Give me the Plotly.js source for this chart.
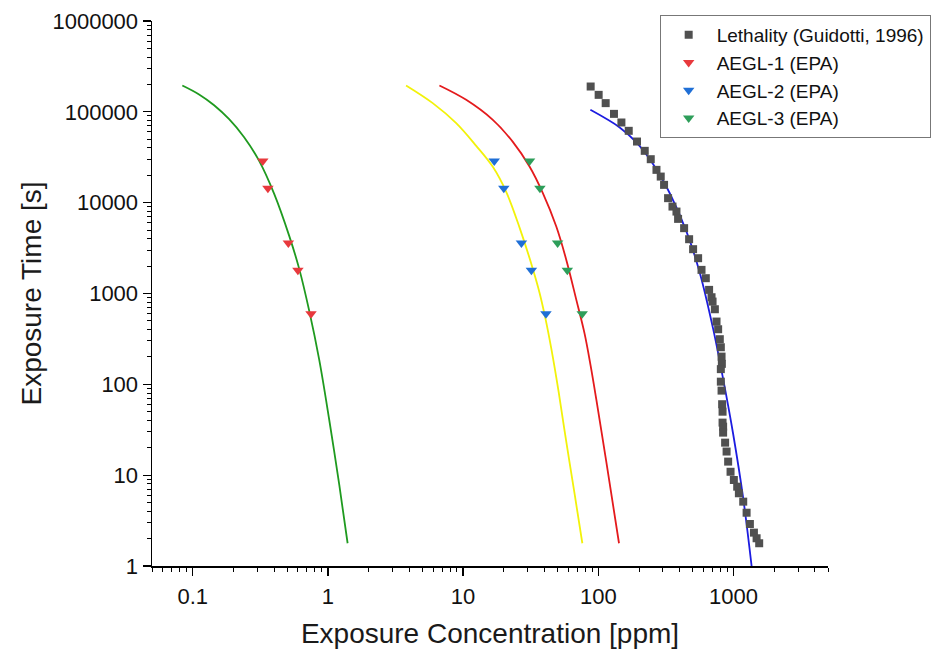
<!DOCTYPE html>
<html>
<head>
<meta charset="utf-8">
<script src="https://cdn.plot.ly/plotly-3.0.1.min.js"></script>
<style>html,body{margin:0;padding:0;background:#fff;}#chart{width:948px;height:651px;}</style>
</head>
<body>
<div id="chart"></div>
<script>
// Lethality data (Guidotti, 1996): concentration [ppm], time [s]
const lethalityConc = [87.8,100.6,113.4,130.6,148.2,167.9,193.3,220.5,244.3,269.3,289.6,306.5,328.2,353.8,378.6,389.2,431.3,469.6,502.6,547.4,580,624,660,688,700,728,749,770,792,806,816,820,806,806,816,824,830,830,838,838,867,889,913,951,1006,1065,1096,1180,1250,1322,1416,1482,1549];
const lethalityTime = [190000,153800,124700,95000,76300,61800,47100,37200,30100,22970,19380,15700,11210,9060,7980,6630,5240,3960,3075,2447,1820,1474,1096,910,815,671,491,404,314,256,202,168,147,107,85.3,60.4,50,37.9,34.2,29.4,22.8,18.2,14.1,10.9,8.85,7.47,6.32,5.11,3.86,2.90,2.33,2.02,1.78];

// AEGL values (EPA): times 10 min, 30 min, 1 h, 4 h, 8 h
const aeglTime = [600,1800,3600,14400,28800];
const aegl1Conc = [0.75,0.60,0.51,0.36,0.33];
const aegl2Conc = [41,32,27,20,17];
const aegl3Conc = [76,59,50,37,31];

// Fitted curves
const greenConc = [0.0838,0.1115,0.1440,0.1860,0.2401,0.3101,0.4006,0.5174,0.6136,0.7278,0.8630,1.0235,1.214,1.399];
const greenTime = [195000,155500,118200,82900,52500,28860,12500,4310,1866,643,185.7,40.5,7.80,1.78];
const yellowConc = [3.785,5.96,8.89,12.50,16.59,20.84,26.2,32.8,36.8,40.7,45.1,50.9,58.0,66.8,76.2];
const yellowTime = [195000,124700,75100,42230,24800,13150,5280,1866,1015,525,239,82.5,23.2,6.21,1.78];
const redConc = [6.68,10.54,16.59,23.33,31.0,38.9,48.9,58.0,68.8,79.25,87.8,96.8,113.0,129.1,142.3];
const redTime = [195000,135500,81600,46720,25000,12730,5460,2344,851,359,159.4,67.3,16.0,4.50,1.78];
const blueConc = [87.4,143.9,191.4,254.0,337.8,449.1,563.5,707.1,838.1,994.3,1179,1361];
const blueTime = [105200,67330,46030,26620,12690,4793,1686,407.5,114.7,28.4,5.61,1];

const xTickVals = [0.1,1,10,100,1000];
const xTickText = ['0.1','1','10','100','1000'];
const yTickVals = [1,10,100,1000,10000,100000,1000000];
const yTickText = ['1','10','100','1000','10000','100000','1000000'];

const FONT = 'Liberation Sans, Arial, sans-serif';

const lineTrace = (x, y, color) => ({
  x: x, y: y, mode: 'lines', type: 'scatter', showlegend: false, hoverinfo: 'skip',
  line: {color: color, width: 1.8, shape: 'spline', smoothing: 1}
});

const traces = [
  lineTrace(greenConc, greenTime, '#1f9a1f'),
  lineTrace(yellowConc, yellowTime, '#f2f20a'),
  lineTrace(redConc, redTime, '#e41a1c'),
  lineTrace(blueConc, blueTime, '#1c1ce0'),
  {x: lethalityConc, y: lethalityTime, mode: 'markers', type: 'scatter', name: 'Lethality (Guidotti, 1996)',
   marker: {symbol: 'square', size: 8, color: '#505050'}},
  {x: aegl1Conc, y: aeglTime, mode: 'markers', type: 'scatter', name: 'AEGL-1 (EPA)',
   marker: {symbol: 'triangle-down', size: 10, color: '#e8393d'}},
  {x: aegl2Conc, y: aeglTime, mode: 'markers', type: 'scatter', name: 'AEGL-2 (EPA)',
   marker: {symbol: 'triangle-down', size: 10, color: '#1f6fd6'}},
  {x: aegl3Conc, y: aeglTime, mode: 'markers', type: 'scatter', name: 'AEGL-3 (EPA)',
   marker: {symbol: 'triangle-down', size: 10, color: '#2e9e5a'}}
];

const axisCommon = {
  type: 'log', showgrid: false, zeroline: false, showline: true, linecolor: '#000', linewidth: 1.5,
  ticks: 'outside', ticklen: 8, tickwidth: 1.3, tickcolor: '#000',
  tickfont: {family: FONT, size: 22, color: '#111'},
  minor: {ticks: 'outside', ticklen: 4, tickwidth: 1, tickcolor: '#000', dtick: 'D1', showgrid: false},
  mirror: false
};

const layout = {
  width: 948, height: 651,
  margin: {l: 152, r: 120, t: 21, b: 85},
  paper_bgcolor: '#fff', plot_bgcolor: '#fff',
  font: {family: FONT, color: '#111'},
  xaxis: Object.assign({}, axisCommon, {
    range: [Math.log10(0.05), Math.log10(5000)],
    tickvals: xTickVals, ticktext: xTickText,
    ticklabelstandoff: 2,
    title: {text: 'Exposure Concentration [ppm]', font: {family: FONT, size: 28, color: '#1a1a1a'}, standoff: 15}
  }),
  yaxis: Object.assign({}, axisCommon, {
    range: [0, 6],
    tickvals: yTickVals, ticktext: yTickText,
    title: {text: 'Exposure Time [s]', font: {family: FONT, size: 28, color: '#1a1a1a'}, standoff: 2}
  }),
  legend: {
    x: 0.751, y: 1.011, xanchor: 'left', yanchor: 'top',
    bgcolor: '#fff', bordercolor: '#777', borderwidth: 1,
    font: {family: FONT, size: 19, color: '#111'},
    itemwidth: 46, tracegroupgap: 0
  },
  showlegend: true
};

Plotly.newPlot('chart', traces, layout, {displayModeBar: false, staticPlot: true});
</script>
</body>
</html>
